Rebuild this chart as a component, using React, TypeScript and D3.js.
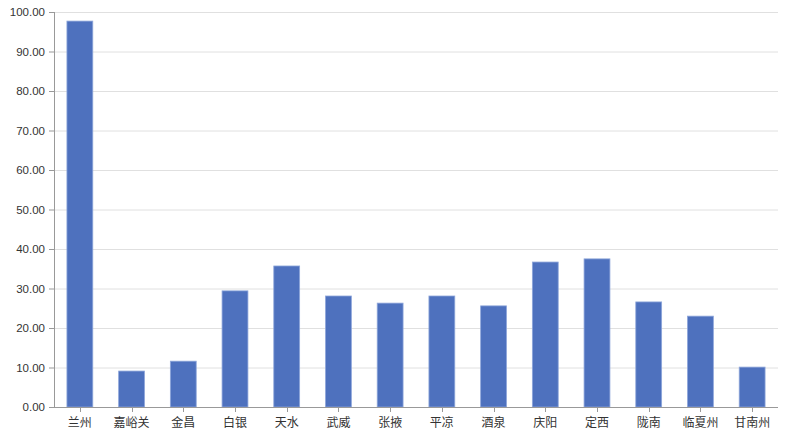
import React from "react";
import * as d3 from "d3";

const categories = ["兰州", "嘉峪关", "金昌", "白银", "天水", "武威", "张掖", "平凉", "酒泉", "庆阳", "定西", "陇南", "临夏州", "甘南州"];
const values = [97.7, 9.1, 11.6, 29.4, 35.7, 28.1, 26.3, 28.1, 25.6, 36.7, 37.5, 26.6, 23.0, 10.1];
const yTicks = [0, 10, 20, 30, 40, 50, 60, 70, 80, 90, 100];

const W = 787, H = 442;
const left = 54, right = 778, top = 12, bottom = 407;

export default function App() {
  const x = d3.scaleBand<string>().domain(categories).range([left, right]).paddingInner(0.5).paddingOuter(0.25);
  const y = d3.scaleLinear().domain([0, 100]).range([bottom, top]);
  const xc = d3.scaleBand<string>().domain(categories).range([left, right]);
  return (
    <svg width={W} height={H} style={{ position: "absolute", left: 0, top: 0, background: "#fff" }}
      fontFamily="'Noto Sans CJK SC', 'Noto Sans', sans-serif">
      {yTicks.map((t) => (
        <g key={t}>
          {t > 0 && <line x1={left} x2={right} y1={y(t) + 0.5} y2={y(t) + 0.5} stroke="#e0e0e0" strokeWidth={1} />}
          <line x1={left - 5} x2={left} y1={y(t) + 0.5} y2={y(t) + 0.5} stroke="#999" />
          <text x={left - 9} y={y(t)} dy="0.35em" textAnchor="end" fontSize={11.5} fill="#333"
            fontFamily="'Liberation Sans', Arial, sans-serif">{t.toFixed(2)}</text>
        </g>
      ))}
      {categories.map((c, i) => (
        <g key={c}>
          <rect x={x(c)} y={y(values[i])} width={x.bandwidth()} height={bottom - y(values[i])}
            fill="#4e71be" stroke="#8ea6da" strokeWidth={0.8} />
          <line x1={Math.round(xc(c)! + xc.bandwidth() / 2) + 0.5} x2={Math.round(xc(c)! + xc.bandwidth() / 2) + 0.5}
            y1={bottom} y2={bottom + 5} stroke="#999" />
          <text x={xc(c)! + xc.bandwidth() / 2} y={bottom + 20} textAnchor="middle" fontSize={12} fill="#333">{c}</text>
        </g>
      ))}
      <line x1={left + 0.5} x2={left + 0.5} y1={top} y2={bottom} stroke="#999" />
      <line x1={left} x2={right} y1={bottom + 0.5} y2={bottom + 0.5} stroke="#999" />
    </svg>
  );
}
